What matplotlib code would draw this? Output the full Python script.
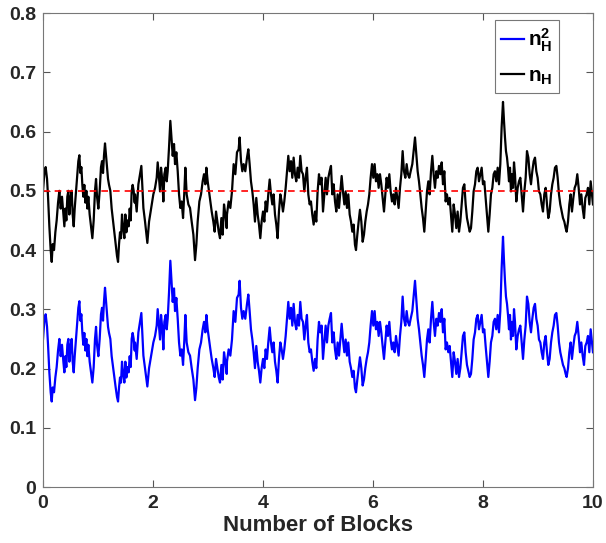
import numpy as np
import matplotlib
matplotlib.use("Agg")
import matplotlib.pyplot as plt

plt.rcParams["font.family"] = ["Liberation Sans", "DejaVu Sans"]
plt.rcParams["font.weight"] = "bold"
plt.rcParams["mathtext.fontset"] = "custom"
plt.rcParams["mathtext.bf"] = "Liberation Sans:bold"
plt.rcParams["mathtext.rm"] = "Liberation Sans:bold"

# n_H, block by block
x1 = [0, .024, .048, .073, .091, .115, .139, .158, .176, .200, .224, .248, .273, .297, .321, .345,
      .370, .388, .406, .424, .442, .461, .479, .503, .521, .539, .558, .576, .600, .624, .642, .661,
      .679, .697, .715, .733, .751, .770, .788, .806, .824, .848, .873, .897, .921, .945, .964, .982,
      1.006, 1.030, 1.054, 1.073, 1.091, 1.109, 1.127, 1.145, 1.164, 1.182, 1.200, 1.224, 1.248,
      1.273, 1.297, 1.321, 1.345, 1.364, 1.382, 1.400, 1.418, 1.436, 1.454, 1.479, 1.497, 1.515,
      1.539, 1.557, 1.576, 1.594, 1.612, 1.630, 1.648, 1.667]
y1 = [.50, .53, .54, .52, .49, .44, .40, .38, .41, .40, .43, .45, .48, .50, .47, .49,
      .46, .44, .47, .45, .49, .50, .46, .49, .50, .46, .44, .47, .50, .53, .55, .56,
      .53, .54, .51, .49, .51, .48, .50, .47, .49, .46, .44, .42, .45, .50, .52, .49,
      .47, .50, .54, .55, .53, .56, .58, .56, .54, .52, .51, .50, .47,
      .45, .43, .41, .39, .38, .41, .43, .42, .46, .44, .42, .46, .43,
      .45, .44, .47, .45, .50, .51, .50, .48]

x2 = [1.673, 1.703, 1.734, 1.764, 1.788, 1.825, 1.855, 1.897, 1.928, 1.976, 2.006, 2.037, 2.067,
      2.085, 2.109, 2.128, 2.146, 2.170, 2.188, 2.206, 2.231, 2.249, 2.267, 2.291, 2.315, 2.340,
      2.358, 2.382, 2.400, 2.424, 2.449, 2.473, 2.497, 2.521, 2.546, 2.570, 2.588, 2.612, 2.643,
      2.673, 2.703, 2.734, 2.764, 2.788, 2.812, 2.843, 2.873, 2.903, 2.927, 2.952, 2.970, 2.994,
      3.018, 3.043, 3.067, 3.097, 3.121, 3.146, 3.170, 3.194, 3.218, 3.243, 3.267, 3.291, 3.315, 3.340]
y2 = [.494, .465, .511, .528, .542, .471, .448, .412, .448, .477, .494, .505, .522,
      .548, .522, .499, .539, .516, .482, .528, .539, .516, .533, .573, .618, .584,
      .559, .579, .545, .565, .533, .494, .471, .482, .454, .499, .539, .494, .477,
      .471, .448, .426, .383, .409, .448, .482, .494, .516, .528, .511, .539, .516,
      .499, .482, .465, .448, .431, .465, .448, .431, .420, .454, .426, .477, .460, .437]

x3 = [3.345, 3.375, 3.406, 3.436, 3.466, 3.497, 3.527, 3.557, 3.575, 3.600, 3.624, 3.648, 3.678,
      3.709, 3.733, 3.757, 3.781, 3.806, 3.830, 3.854, 3.878, 3.903, 3.927, 3.951, 3.975, 4.000,
      4.024, 4.048, 4.072, 4.096, 4.121, 4.145, 4.169, 4.193, 4.218, 4.242, 4.266, 4.290, 4.315,
      4.339, 4.363, 4.387, 4.412, 4.436, 4.460, 4.484, 4.509, 4.533, 4.557, 4.581, 4.605, 4.630,
      4.654, 4.678, 4.702, 4.727, 4.751, 4.775, 4.799, 4.824, 4.848, 4.872, 4.896, 4.921, 4.945,
      4.969, 4.993, 5.018]
y3 = [.460, .482, .471, .499, .545, .528, .565, .570, .590, .550, .533, .545, .533,
      .556, .570, .545, .516, .499, .477, .448, .488, .460, .443, .420, .448, .465,
      .448, .482, .465, .494, .519, .494, .477, .494, .460, .443, .420, .465, .494,
      .482, .465, .482, .505, .533, .559, .533, .550, .522, .556, .528, .516, .539,
      .522, .559, .533, .528, .499, .522, .539, .494, .477, .482, .460, .443, .465,
      .448, .499, .528]

x4 = [5.042, 5.066, 5.091, 5.115, 5.139, 5.163, 5.188, 5.212, 5.236, 5.260, 5.285, 5.309, 5.333,
      5.357, 5.382, 5.406, 5.430, 5.454, 5.479, 5.503, 5.527, 5.551, 5.576, 5.600, 5.624, 5.648,
      5.672, 5.691, 5.715, 5.739, 5.763, 5.788, 5.812, 5.836, 5.860, 5.885, 5.909, 5.933, 5.957,
      5.982, 6.006, 6.030, 6.054, 6.079, 6.103, 6.127, 6.151, 6.175, 6.200, 6.224, 6.248, 6.272,
      6.297, 6.321, 6.345, 6.369, 6.394, 6.418, 6.442, 6.466, 6.491, 6.515, 6.539, 6.563, 6.588,
      6.612, 6.636, 6.660, 6.685]
y4 = [.511, .522, .465, .494, .522, .494, .522, .533, .542, .494, .511, .482, .465,
      .494, .471, .499, .525, .499, .477, .499, .471, .494, .460, .448, .431, .443,
      .409, .400, .426, .448, .468, .448, .414, .426, .448, .465, .477, .494, .522,
      .545, .522, .545, .516, .528, .505, .528, .511, .488, .465, .494, .522, .505,
      .528, .499, .482, .494, .477, .505, .488, .471, .505, .528, .567, .533, .522,
      .545, .528, .522, .533]

x5 = [6.715, 6.739, 6.764, 6.788, 6.812, 6.836, 6.861, 6.885, 6.909, 6.933, 6.958, 6.982, 7.006,
      7.030, 7.055, 7.079, 7.103, 7.127, 7.152, 7.176, 7.200, 7.224, 7.249, 7.273, 7.297, 7.321,
      7.345, 7.370, 7.394, 7.418, 7.442, 7.467, 7.491, 7.515, 7.539, 7.564, 7.588, 7.612, 7.636,
      7.661, 7.685, 7.709, 7.733, 7.758, 7.782, 7.806, 7.830, 7.855, 7.879, 7.903, 7.927, 7.952,
      7.976, 8.000, 8.024, 8.048, 8.073, 8.097, 8.121, 8.145, 8.170, 8.194, 8.218, 8.242, 8.267,
      8.291, 8.315, 8.339]
y5 = [.545, .567, .590, .562, .533, .516, .494, .471, .454, .431, .465, .499, .516,
      .494, .533, .559, .528, .505, .533, .522, .542, .528, .548, .511, .533, .482,
      .494, .477, .488, .460, .431, .477, .460, .437, .465, .431, .448, .477, .505,
      .511, .477, .454, .443, .431, .437, .465, .499, .511, .533, .539, .516, .528,
      .539, .511, .516, .488, .460, .431, .460, .494, .505, .528, .533, .516, .539,
      .511, .545, .607]

x6 = [8.364, 8.382, 8.400, 8.418, 8.437, 8.455, 8.473, 8.491, 8.509, 8.528, 8.546, 8.564, 8.582,
      8.606, 8.631, 8.655, 8.679, 8.703, 8.728, 8.752, 8.776, 8.800, 8.825, 8.849, 8.873, 8.897,
      8.922, 8.946, 8.970, 8.994, 9.018, 9.043, 9.067, 9.091, 9.115, 9.140, 9.164, 9.188, 9.212,
      9.237, 9.261, 9.285, 9.309, 9.334, 9.358, 9.382, 9.406, 9.431, 9.455, 9.479, 9.503, 9.521,
      9.546, 9.570, 9.594, 9.618, 9.643, 9.667, 9.691, 9.715, 9.740, 9.764, 9.788, 9.812, 9.837,
      9.861, 9.885, 9.909, 9.934, 9.958, 9.982, 10.0]
y6 = [.650, .618, .590, .567, .556, .539, .516, .539, .499, .528, .505, .548, .528,
      .482, .505, .516, .522, .494, .465, .499, .522, .567, .556, .528, .511, .533,
      .550, .556, .533, .522, .499, .494, .477, .465, .494, .505, .477, .454, .465,
      .494, .511, .522, .539, .542, .522, .494, .477, .465, .454, .448, .437, .431,
      .448, .477, .494, .465, .488, .505, .511, .528, .505, .477, .494, .471, .454,
      .488, .494, .505, .477, .516, .494, .477]

blocks = np.array(x1 + x2 + x3 + x4 + x5 + x6)
n_h = np.array(y1 + y2 + y3 + y4 + y5 + y6)
n_h2 = n_h ** 2
ref_level = 0.5

fig = plt.figure(figsize=(6.06, 5.43), dpi=100)
ax = fig.add_axes([0.071, 0.103, 0.9075, 0.873])

ax.plot(blocks, n_h2, color="blue", lw=1.6, label=r"$\mathbf{n_H^2}$")
ax.plot(blocks, n_h, color="black", lw=1.6, label=r"$\mathbf{n_H}$")
ax.axhline(ref_level, color="red", ls="--", lw=1.2, dashes=(4, 3))

ax.set_xlim(0, 10)
ax.set_ylim(0, 0.8)
ax.set_xticks(np.arange(0, 11, 2))
ax.set_yticks(np.arange(0, 0.81, 0.1))
ax.set_yticklabels(["0"] + [f"{v:.1f}" for v in np.arange(0.1, 0.81, 0.1)])
ax.tick_params(direction="in", top=True, right=True, length=5, width=0.8,
               color="#555555", labelsize=14, labelcolor="#262626")
ax.tick_params(axis="x", pad=6)
ax.tick_params(axis="y", pad=5)
for s in ax.spines.values():
    s.set_color("#777777")
    s.set_linewidth(0.8)
ax.set_xlabel("Number of Blocks", fontsize=16, fontweight="bold", color="#262626",
              labelpad=2)

leg = ax.legend(loc="upper right", fontsize=15, handlelength=1.1, handletextpad=0.2,
                borderpad=0.3, labelspacing=0.6, fancybox=False, framealpha=1,
                borderaxespad=0, bbox_to_anchor=(0.938, 0.985))
leg.get_frame().set_edgecolor("#777777")
leg.get_frame().set_linewidth(0.8)

fig.savefig("out.png", dpi=100)
